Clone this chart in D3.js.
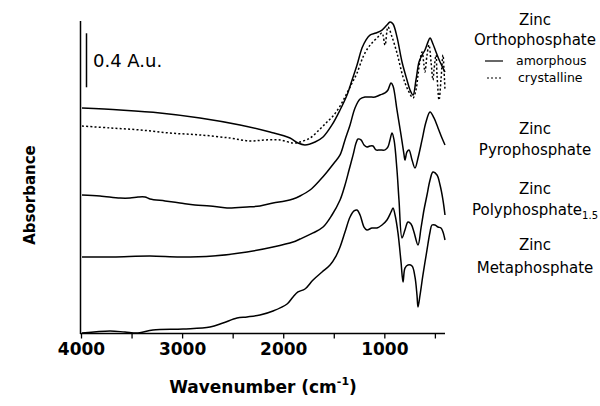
<!DOCTYPE html>
<html>
<head>
<meta charset="utf-8">
<script src="https://cdn.jsdelivr.net/npm/d3@7"></script>
<style>
  html, body { margin: 0; padding: 0; background: #fff; }
  svg { display: block; }
  text { font-family: "DejaVu Sans", Verdana, sans-serif; fill: #000; }
</style>
</head>
<body>
<svg id="chart" width="600" height="406"></svg>
<script>
// ---------- DATA (wavenumber cm-1, absorbance with stacking offset) ----------
const xTickValues = [4000, 3500, 3000, 2500, 2000, 1500, 1000, 500];
const xTickLabels = ["4000", "", "3000", "", "2000", "", "1000", ""];

const orthoAmorphous = [
  [3990,1.667],[3614,1.652],[3219,1.630],[2823,1.593],[2427,1.541],[2131,1.489],[1933,1.444],
  [1854,1.407],[1785,1.393],[1685,1.415],[1606,1.452],[1518,1.541],[1438,1.652],[1369,1.763],
  [1319,1.874],[1270,1.985],[1221,2.111],[1182,2.170],[1142,2.207],[1083,2.222],[1023,2.244],
  [974,2.281],[944,2.304],[914,2.289],[875,2.193],[825,2.007],[776,1.874],[746,1.800],
  [716,1.763],[687,1.874],[657,2.007],[627,2.059],[598,2.096],[568,2.156],[548,2.185],
  [519,2.141],[489,2.081],[449,2.007],[420,1.963],[400,1.933]
];

const orthoCrystalline = [
  [3990,1.533],[3713,1.519],[3416,1.504],[3120,1.481],[2823,1.467],[2526,1.444],[2329,1.422],
  [2180,1.430],[2032,1.430],[1903,1.407],[1834,1.415],[1735,1.444],[1636,1.511],[1567,1.563],
  [1507,1.607],[1438,1.681],[1369,1.778],[1319,1.852],[1270,1.926],[1211,2.044],[1162,2.111],
  [1122,2.148],[1063,2.193],[1023,2.222],[993,2.133],[964,2.267],[924,2.193],[875,2.074],
  [815,1.896],[766,1.800],[716,1.741],[687,1.800],[667,1.911],[647,2.022],[627,2.081],
  [608,1.985],[598,1.933],[578,2.059],[558,2.133],[538,2.007],[519,1.874],[509,1.948],
  [489,2.059],[479,1.911],[459,1.726],[440,1.874],[420,2.059],[410,1.948],[400,1.800]
];

const pyrophosphate = [
  [3990,1.022],[3812,1.015],[3614,1.000],[3515,1.000],[3436,1.007],[3367,1.007],[3318,0.993],
  [3169,0.978],[3021,0.963],[2873,0.948],[2724,0.941],[2556,0.926],[2358,0.933],[2230,0.941],
  [2101,0.963],[1982,0.978],[1903,0.993],[1834,1.015],[1735,1.059],[1636,1.133],[1567,1.193],
  [1497,1.259],[1438,1.319],[1389,1.430],[1339,1.541],[1290,1.667],[1240,1.733],[1192,1.748],
  [1142,1.748],[1092,1.748],[1043,1.763],[993,1.778],[964,1.800],[934,1.852],[914,1.830],
  [875,1.652],[835,1.467],[805,1.319],[796,1.281],[776,1.341],[756,1.356],[726,1.281],
  [697,1.222],[667,1.296],[627,1.430],[588,1.563],[548,1.637],[509,1.593],[469,1.519],
  [430,1.444],[400,1.393]
];

const polyphosphate = [
  [3990,0.563],[3684,0.563],[3318,0.570],[3021,0.563],[2695,0.570],[2358,0.600],[2101,0.637],
  [1903,0.674],[1834,0.696],[1705,0.741],[1606,0.785],[1518,0.874],[1438,0.985],[1389,1.096],
  [1349,1.207],[1309,1.319],[1280,1.407],[1260,1.437],[1231,1.430],[1201,1.393],[1172,1.378],
  [1142,1.385],[1112,1.385],[1083,1.356],[1043,1.356],[993,1.356],[964,1.378],[944,1.430],
  [924,1.481],[904,1.430],[875,1.207],[855,0.985],[825,0.704],[796,0.763],[766,0.822],
  [736,0.807],[707,0.748],[667,0.652],[637,0.778],[608,0.911],[578,1.022],[548,1.133],
  [519,1.193],[479,1.170],[449,1.096],[420,0.985],[400,0.874]
];

const metaphosphate = [
  [3990,0.000],[3713,0.015],[3565,0.007],[3436,0.000],[3288,0.022],[2991,0.030],[2724,0.044],
  [2596,0.074],[2457,0.111],[2358,0.119],[2230,0.133],[2101,0.163],[1962,0.215],[1903,0.267],
  [1854,0.304],[1785,0.326],[1705,0.393],[1616,0.452],[1537,0.504],[1478,0.570],[1438,0.637],
  [1389,0.748],[1339,0.859],[1300,0.904],[1270,0.911],[1240,0.874],[1201,0.785],[1172,0.763],
  [1122,0.778],[1073,0.778],[1023,0.800],[974,0.837],[934,0.896],[914,0.926],[894,0.874],
  [865,0.741],[835,0.526],[815,0.378],[796,0.481],[766,0.504],[726,0.496],[697,0.415],
  [677,0.281],[667,0.193],[647,0.281],[618,0.430],[578,0.615],[548,0.748],[529,0.800],
  [499,0.800],[469,0.785],[440,0.778],[420,0.748],[400,0.689]
];

const scaleBar = [1.82, 2.22];   // 0.4 A.u.

// ---------- DRAW ----------
const svg = d3.select("#chart");
const x = d3.scaleLinear().domain([4000, 400]).range([81, 445]);
const y = d3.scaleLinear().domain([0, 2.311]).range([333, 21]);

const line = d3.line().x(d => x(d[0])).y(d => y(d[1])).curve(d3.curveCatmullRom.alpha(0.5));

const series = [
  { data: orthoCrystalline, dash: "2,2.2" },
  { data: orthoAmorphous, dash: null },
  { data: pyrophosphate, dash: null },
  { data: polyphosphate, dash: null },
  { data: metaphosphate, dash: null }
];
series.forEach(s => {
  svg.append("path").datum(s.data)
    .attr("d", line)
    .attr("fill", "none")
    .attr("stroke", "#000")
    .attr("stroke-width", 1.5)
    .attr("stroke-linejoin", "round")
    .attr("stroke-dasharray", s.dash);
});

// axes
const xAxis = d3.axisBottom(x).tickValues(xTickValues)
  .tickFormat((d, i) => xTickLabels[i]).tickSize(5).tickSizeOuter(0).tickPadding(4);
const gx = svg.append("g").attr("transform", "translate(0,333.5)").call(xAxis);
gx.select(".domain").attr("stroke-width", 1.5).attr("d", "M80,0H445");
gx.selectAll(".tick line").attr("stroke-width", 1.3);
gx.selectAll(".tick text").style("font-size", "17px").style("font-family", "DejaVu Sans").attr("font-weight", "bold");

svg.append("line").attr("x1", 80.5).attr("x2", 80.5).attr("y1", y(2.311)).attr("y2", 334)
  .attr("stroke", "#000").attr("stroke-width", 1.5);

// axis titles
const xt = svg.append("text").attr("x", 263).attr("y", 393).attr("text-anchor", "middle")
  .style("font-size", "17px").attr("font-weight", "bold");
xt.append("tspan").text("Wavenumber (cm");
xt.append("tspan").attr("dy", -8).style("font-size", "11px").text("-1");
xt.append("tspan").attr("dy", 8).text(")");

svg.append("text").attr("transform", "translate(35,195) rotate(-90)").attr("text-anchor", "middle")
  .style("font-size", "15px").attr("font-weight", "bold").text("Absorbance");

// scale bar
svg.append("line").attr("x1", 86.5).attr("x2", 86.5).attr("y1", y(scaleBar[1])).attr("y2", y(scaleBar[0]))
  .attr("stroke", "#000").attr("stroke-width", 1.5);
svg.append("text").attr("x", 93).attr("y", 67).style("font-size", "18px").text("0.4 A.u.");

// legend / labels
const cx = 535;
function lab(txt, yy, size) {
  return svg.append("text").attr("x", cx).attr("y", yy).attr("text-anchor", "middle")
    .style("font-size", (size || 15) + "px").text(txt);
}
lab("Zinc", 25); lab("Orthophosphate", 45);
svg.append("line").attr("x1", 485).attr("x2", 503).attr("y1", 61).attr("y2", 61).attr("stroke", "#000").attr("stroke-width", 1.2);
svg.append("text").attr("x", 516).attr("y", 65).style("font-size", "12.5px").text("amorphous");
svg.append("line").attr("x1", 487).attr("x2", 503).attr("y1", 78).attr("y2", 78).attr("stroke", "#000").attr("stroke-width", 1.2).attr("stroke-dasharray", "2,2");
svg.append("text").attr("x", 518).attr("y", 82).style("font-size", "12.5px").text("crystalline");

lab("Zinc", 134); lab("Pyrophosphate", 155);
lab("Zinc", 194);
const pt = svg.append("text").attr("x", cx).attr("y", 215).attr("text-anchor", "middle").style("font-size", "15px");
pt.append("tspan").text("Polyphosphate");
pt.append("tspan").attr("dy", 4).style("font-size", "10px").text("1.5");
lab("Zinc", 250); lab("Metaphosphate", 273);
</script>
</body>
</html>
